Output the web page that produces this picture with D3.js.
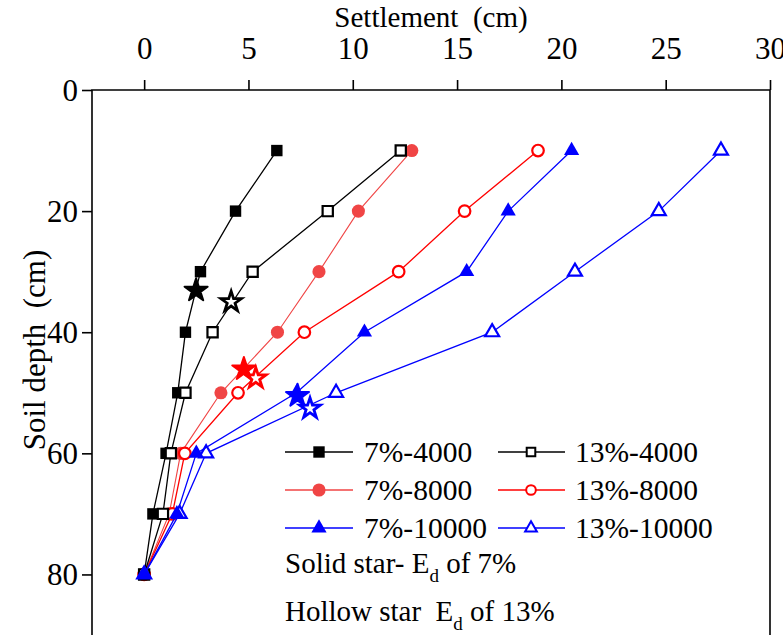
<!DOCTYPE html>
<html>
<head>
<meta charset="utf-8">
<script src="https://cdn.jsdelivr.net/npm/d3@7"></script>
<style>
  html, body { margin: 0; padding: 0; background: #fff; }
  svg { display: block; font-family: "Liberation Serif", "Times New Roman", serif; }
</style>
</head>
<body>
<svg id="chart" width="783" height="635"></svg>
<script>
// ---- data ----
const depths = [10, 20, 30, 40, 50, 60, 70, 80];
const s7_4000   = [6.36, 4.38, 2.70, 1.98, 1.61, 1.05, 0.42, 0];
const s13_4000  = [12.30, 8.80, 5.20, 3.28, 1.98, 1.28, 0.90, 0];
const s7_8000   = [12.83, 10.27, 8.38, 6.39, 3.68, 1.75, 1.20, 0];
const s13_8000  = [18.88, 15.36, 12.20, 7.68, 4.50, 1.95, 1.35, 0];
const s7_10000  = [20.49, 17.45, 15.46, 10.56, 7.30, 2.50, 1.57, 0];
const s13_10000 = [27.65, 24.67, 20.65, 16.68, 9.20, 2.97, 1.70, 0];

const seriesNames = ["7%-4000", "13%-4000", "7%-8000", "13%-8000", "7%-10000", "13%-10000"];

// E_d stars: [settlement, depth]
const solidStarX = [2.49, 4.78, 7.35];
const solidStarY = [33.1, 46.1, 50.5];
const hollowStarX = [4.17, 5.35, 7.95];
const hollowStarY = [35.0, 47.6, 52.6];

const xTicks = [0, 5, 10, 15, 20, 25, 30];
const yTicks = [0, 20, 40, 60, 80];

// ---- layout ----
const svg = d3.select("#chart");
const mL = 92, mR = 770, mT = 90, mB = 635;
const x = d3.scaleLinear().domain([-2.5, 30]).range([mL, mR]);
const y = d3.scaleLinear().domain([0, 90]).range([mT, mB]);

const BLACK = "#000000", RED_L = "#f04545", RED = "#ff0000", BLUE = "#0000ff";

const styles = {
  "7%-4000":  {data: s7_4000,  color: BLACK, lw: 1.3, sym: d3.symbolSquare,   size: 130, filled: true},
  "13%-4000": {data: s13_4000, color: BLACK, lw: 1.3, sym: d3.symbolSquare,   size: 105, filled: false},
  "7%-8000":  {data: s7_8000,  color: RED_L, lw: 1.1, sym: d3.symbolCircle,   size: 135, filled: true},
  "13%-8000": {data: s13_8000, color: RED,   lw: 1.3, sym: d3.symbolCircle,   size: 105, filled: false},
  "7%-10000": {data: s7_10000, color: BLUE,  lw: 1.3, sym: d3.symbolTriangle, size: 100, filled: true},
  "13%-10000":{data: s13_10000,color: BLUE,  lw: 1.3, sym: d3.symbolTriangle, size: 85,  filled: false}
};

const drawOrder = ["7%-4000", "7%-8000", "13%-8000", "13%-4000", "13%-10000", "7%-10000"];

const plot = svg.append("g");
const line = d3.line().x(d => x(d[0])).y(d => y(d[1]));

drawOrder.forEach(name => {
  const st = styles[name];
  const pts = st.data.map((v, i) => [v, depths[i]]);
  const g = plot.append("g");
  g.append("path").attr("d", line(pts)).attr("fill", "none")
    .attr("stroke", st.color).attr("stroke-width", st.lw);
  g.selectAll("path.m").data(pts).join("path").attr("class", "m")
    .attr("transform", d => `translate(${x(d[0])},${y(d[1])})`)
    .attr("d", d3.symbol(st.sym, st.size))
    .attr("fill", st.filled ? st.color : "#fff")
    .attr("stroke", st.color)
    .attr("stroke-width", st.filled ? 0 : 2.2);
});

// stars
const starColors = [BLACK, RED, BLUE];
hollowStarX.forEach((v, i) => {
  plot.append("path")
    .attr("transform", `translate(${x(v)},${y(hollowStarY[i])})`)
    .attr("d", d3.symbol(d3.symbolStar, 130)())
    .attr("fill", "#fff").attr("stroke", starColors[i]).attr("stroke-width", 2.8)
    .attr("stroke-linejoin", "miter");
});
solidStarX.forEach((v, i) => {
  plot.append("path")
    .attr("transform", `translate(${x(v)},${y(solidStarY[i])})`)
    .attr("d", d3.symbol(d3.symbolStar, 165)())
    .attr("fill", starColors[i]).attr("stroke", starColors[i]).attr("stroke-width", 2)
    .attr("stroke-linejoin", "round");
});

// frame
svg.append("path")
  .attr("d", `M${mL},${mB + 2}V${mT}H${mR}V${mB + 2}`)
  .attr("fill", "none").attr("stroke", "#000").attr("stroke-width", 1.6);

// axes
const xAxis = svg.append("g").attr("transform", `translate(0,${mT})`)
  .call(d3.axisTop(x).tickValues(xTicks).tickSize(10).tickPadding(21).tickSizeOuter(0));
const yAxis = svg.append("g").attr("transform", `translate(${mL},0)`)
  .call(d3.axisLeft(y).tickValues(yTicks).tickSize(10).tickPadding(4).tickSizeOuter(0));
[xAxis, yAxis].forEach(a => {
  a.select(".domain").remove();
  a.selectAll("line").attr("stroke", "#000").attr("stroke-width", 1.6);
  a.selectAll("text").attr("font-size", 31).attr("fill", "#000")
    .attr("font-family", "'Liberation Serif', 'Times New Roman', serif");
});
yAxis.selectAll("text").attr("dy", "0.34em");

// axis titles
svg.append("text").attr("x", (mL + mR) / 2).attr("y", 27)
  .attr("text-anchor", "middle").attr("font-size", 29)
  .style("white-space", "pre").text("Settlement  (cm)");
svg.append("text").attr("transform", `translate(45,350) rotate(-90)`)
  .attr("text-anchor", "middle").attr("font-size", 31)
  .style("white-space", "pre").text("Soil depth  (cm)");

// legend
const legendRows = [452, 490, 528];
const legCols = [{x1: 285, x2: 353, mx: 319, tx: 364}, {x1: 498, x2: 565, mx: 531, tx: 575}];
seriesNames.forEach((name, i) => {
  const st = styles[name];
  const col = legCols[i % 2];
  const ry = legendRows[Math.floor(i / 2)];
  const g = svg.append("g");
  g.append("line").attr("x1", col.x1).attr("x2", col.x2).attr("y1", ry).attr("y2", ry)
    .attr("stroke", st.color).attr("stroke-width", st.lw + 0.3);
  g.append("path").attr("transform", `translate(${col.mx},${ry})`)
    .attr("d", d3.symbol(st.sym, st.filled ? st.size : st.size * 0.7)())
    .attr("fill", st.filled ? st.color : "#fff")
    .attr("stroke", st.color).attr("stroke-width", st.filled ? 0 : 2);
  g.append("text").attr("x", col.tx).attr("y", ry + 10).attr("font-size", 29.5).text(name);
});

const t1 = svg.append("text").attr("x", 285).attr("y", 573).attr("font-size", 29);
t1.append("tspan").text("Solid star- E");
t1.append("tspan").attr("font-size", 19).attr("dy", 9).text("d");
t1.append("tspan").attr("dy", -9).text(" of 7%");

const t2 = svg.append("text").attr("x", 285).attr("y", 621).attr("font-size", 29)
  .style("white-space", "pre");
t2.append("tspan").text("Hollow star  E");
t2.append("tspan").attr("font-size", 19).attr("dy", 9).text("d");
t2.append("tspan").attr("dy", -9).text(" of 13%");
</script>
</body>
</html>
